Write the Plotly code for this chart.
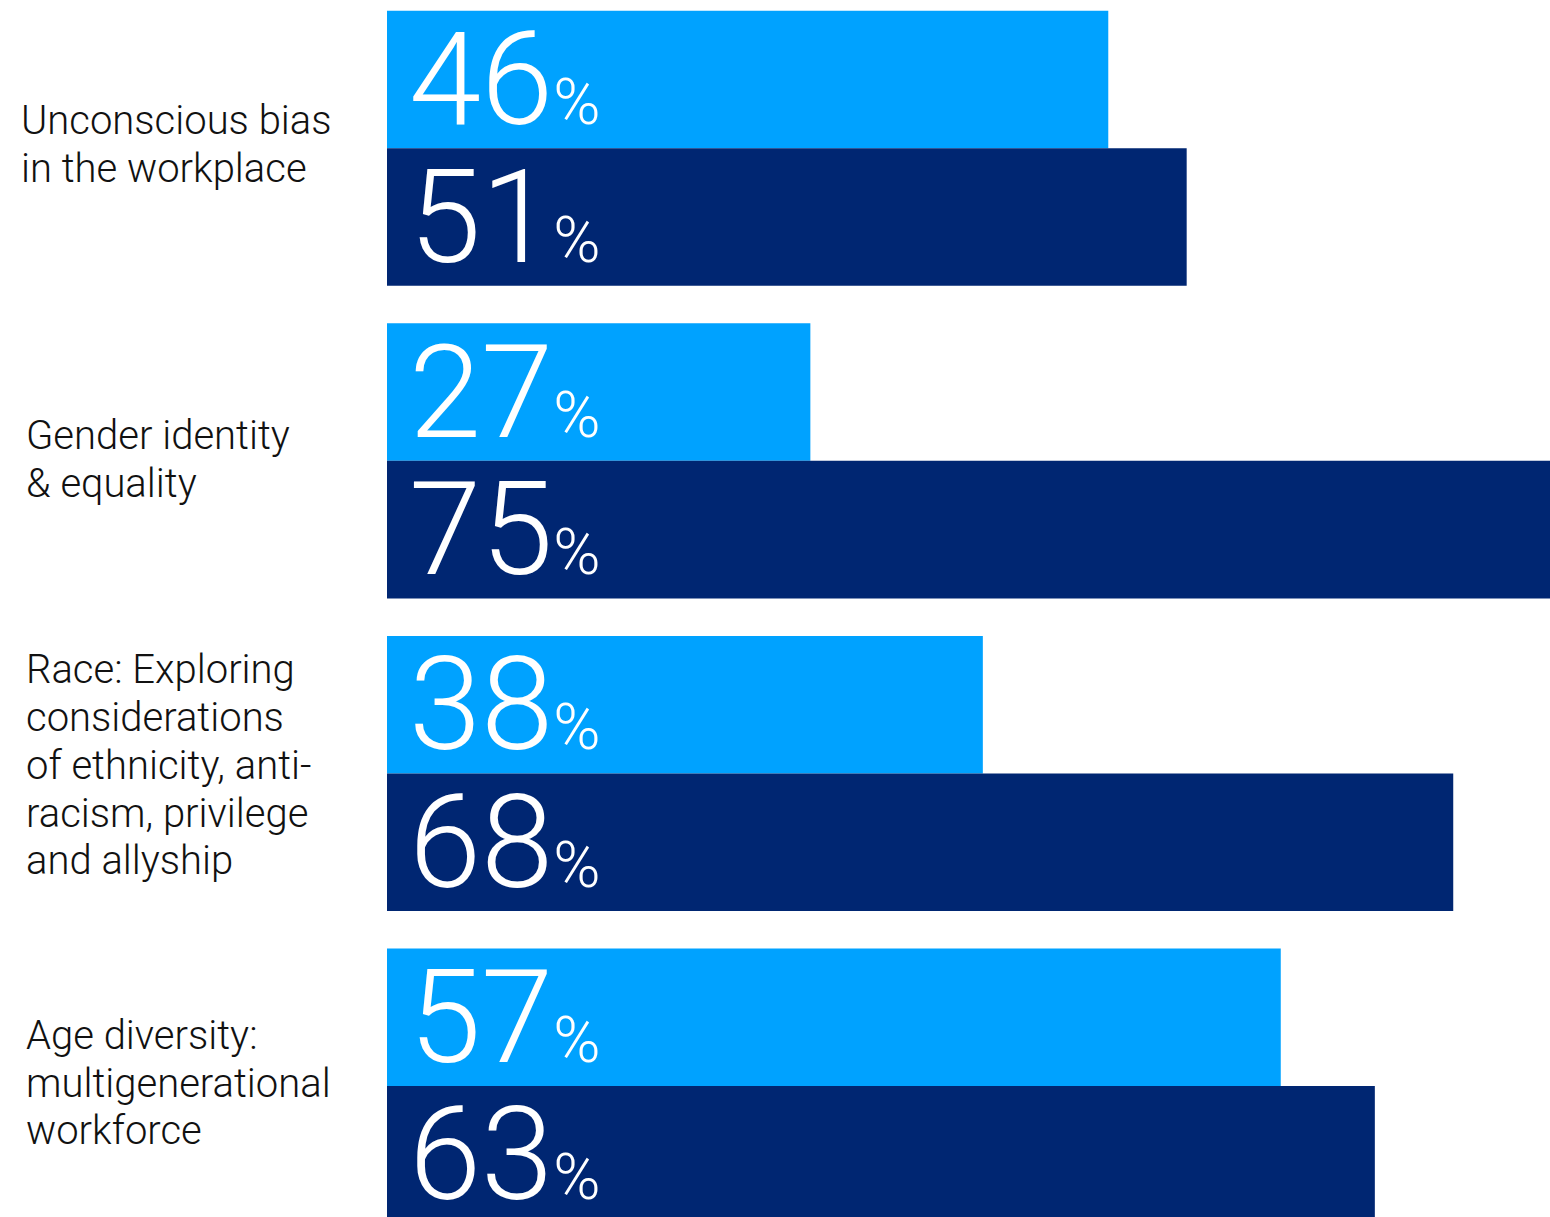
import plotly.graph_objects as go

# Survey topics (one list of lines per topic) and the share for each of the two series
topics = [
    ["Unconscious bias", "in the workplace"],
    ["Gender identity", "& equality"],
    ["Race: Exploring", "considerations", "of ethnicity, anti-", "racism, privilege", "and allyship"],
    ["Age diversity:", "multigenerational", "workforce"],
]
series_a = [46, 27, 38, 57]   # light blue bars
series_b = [51, 75, 68, 63]   # navy bars

LIGHT = "#00A2FF"
NAVY = "#002672"
W, H = 1550, 1217
LEFT = 387            # pixel where the value axis starts
PX_PER_PCT = 15.68    # horizontal scale
PITCH = 312.6         # vertical distance between topic groups, px
FIRST_CENTER = 148.25 # pixel centre of the first group
LINE_H = 47.8         # label line spacing, px
LABEL_SIZE = 40

ids = list(range(len(topics)))

fig = go.Figure()
fig.add_trace(go.Bar(y=ids, x=series_a, orientation="h", marker=dict(color=LIGHT, line=dict(width=0)),
                     offsetgroup="a", hoverinfo="skip"))
fig.add_trace(go.Bar(y=ids, x=series_b, orientation="h", marker=dict(color=NAVY, line=dict(width=0)),
                     offsetgroup="b", hoverinfo="skip"))

annotations = []
label_dx = [19, 24, 24, 24]          # left edge of each label block, px
label_nudge = [9, 11.6, 4.8, 10]     # block baseline-centre below group centre, px
BASELINE_TO_MID = 13                 # distance from a line's baseline up to its box middle

for i, (lines, a, b) in enumerate(zip(topics, series_a, series_b)):
    n = len(lines)
    for k, line in enumerate(lines):
        baseline = label_nudge[i] + (k - (n - 1) / 2) * LINE_H
        annotations.append(dict(
            x=0, xref="paper", xshift=label_dx[i] - LEFT, xanchor="left",
            y=i, yref="y", yanchor="middle", yshift=-(baseline - BASELINE_TO_MID),
            text=line, showarrow=False, align="left",
            font=dict(family="Roboto", size=LABEL_SIZE, color="#111111", weight=300),
        ))
    for val, off in ((a, -0.22), (b, 0.22)):
        annotations.append(dict(
            x=0, xref="x", xanchor="left", xshift=20,
            y=i + off, yref="y", yanchor="middle", yshift=0,
            text=f"{val}<span style='font-size:64px'>%</span>",
            showarrow=False, align="left",
            font=dict(family="Roboto", size=130, color="white", weight=300),
        ))

fig.update_layout(
    width=W, height=H,
    margin=dict(l=LEFT, r=0, t=0, b=0),
    paper_bgcolor="white", plot_bgcolor="white",
    barmode="group", bargap=0.12, bargroupgap=0,
    showlegend=False,
    xaxis=dict(range=[0, (W - LEFT) / PX_PER_PCT], visible=False, fixedrange=True),
    yaxis=dict(range=[(H - FIRST_CENTER) / PITCH, -FIRST_CENTER / PITCH],
               visible=False, fixedrange=True),
    annotations=annotations,
)

fig.write_html("out.html", config={"displayModeBar": False})
